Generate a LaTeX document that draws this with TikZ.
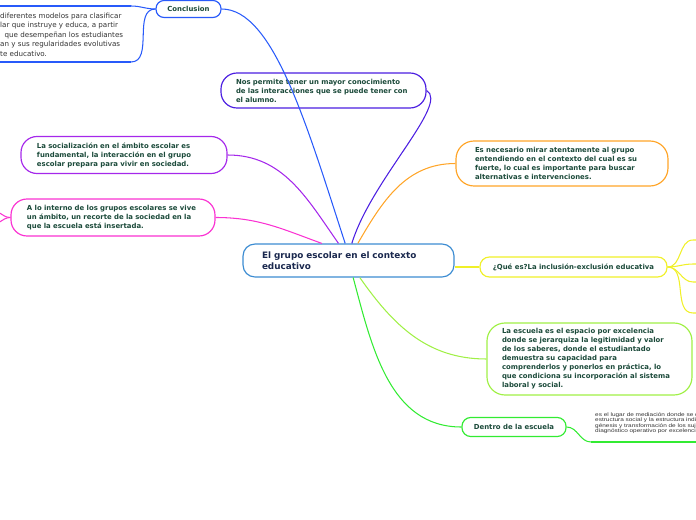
\documentclass[tikz,border=0pt]{standalone}
\usepackage{xcolor}
\usepackage{fontspec}
\setmainfont{DejaVu Sans}
\newfontfamily\arialfont[FakeStretch=1.25]{Liberation Sans}
\usepackage{tikz}
\usetikzlibrary{positioning, calc}
\definecolor{txtgreen}{RGB}{27,74,58}
\definecolor{txtnavy}{RGB}{26,40,78}
\definecolor{lnblue}{RGB}{40,90,250}
\definecolor{lnindigo}{RGB}{75,30,225}
\definecolor{lnpurple}{RGB}{165,40,235}
\definecolor{lnmagenta}{RGB}{250,50,210}
\definecolor{lnorange}{RGB}{255,165,40}
\definecolor{lnyellow}{RGB}{240,240,40}
\definecolor{lnlime}{RGB}{160,240,70}
\definecolor{lngreen}{RGB}{50,235,50}
\definecolor{centralblue}{RGB}{60,140,210}

\begin{document}
\begin{tikzpicture}[
        x=0.3mm, y=-0.3mm,
        topic/.style={rectangle, rounded corners=4.8mm, draw, line width=1pt, fill=white, align=left, text=txtgreen, inner ysep=0pt, font=\bfseries\fontsize{5.9pt}{7.7pt}\selectfont},
        label/.style={topic, align=center, rounded corners=2.6mm},
        central/.style={topic, draw=centralblue, text=txtnavy, rounded corners=3.6mm, font=\bfseries\fontsize{7.55pt}{9.4pt}\selectfont},
        note/.style={align=left, inner sep=0pt, text=black!80, font=\fontsize{6.1pt}{8.1pt}\selectfont},
        small/.style={align=left, inner sep=0pt, text=black!80, font=\arialfont\fontsize{4.4pt}{4.5pt}\selectfont},
        link/.style={line width=0.9pt},
        underline/.style={line width=1.4pt}
    ]
        \useasboundingbox (0,0) rectangle (696,520);

        % main topic
        \node[central, text width=51.9mm, inner xsep=5.7mm, minimum height=9.9mm] (grupo) at (348.5,260.5) {El grupo escolar en el contexto\\educativo};

        % upper branches
        \node[label, draw=lnblue, minimum width=19.5mm, minimum height=5.1mm, rounded corners=2.4mm] (conclusion) at (188.5,9) {Conclusion};
        \node[topic, draw=lnindigo, text width=52.5mm, inner xsep=4.5mm, minimum height=10.5mm] (permite) at (323.5,90.5) {Nos permite tener un mayor conocimiento\\de las interacciones que se puede tener con\\el alumno.};
        \node[topic, draw=lnpurple, text width=52.2mm, inner xsep=4.8mm, minimum height=11.1mm] (socializacion) at (124,155) {La socialización en el ámbito escolar es\\fundamental, la interacción en el grupo\\escolar prepara para vivir en sociedad.};
        \node[topic, draw=lnmagenta, text width=51.6mm, inner xsep=4.8mm, minimum height=11.1mm] (interno) at (113,217.5) {A lo interno de los grupos escolares se vive\\un ámbito, un recorte de la sociedad en la\\que la escuela está insertada.};
        \node[topic, draw=lnorange, text width=52.2mm, inner xsep=5.7mm, minimum height=13.5mm, rounded corners=5.4mm] (necesario) at (562,163.5) {Es necesario mirar atentamente al grupo\\entendiendo en el contexto del cual es su\\fuerte, lo cual es importante para buscar\\alternativas e intervenciones.};

        % lower branches
        \node[label, draw=lnyellow, minimum width=56.1mm, minimum height=6mm, rounded corners=2.8mm] (inclusion) at (573.5,267) {¿Qué es?La inclusión-exclusión educativa};
        \node[topic, draw=lnlime, text width=52.5mm, inner xsep=4.5mm, minimum height=21.6mm, rounded corners=5.4mm] (escuela) at (589.5,359) {La escuela es el espacio por excelencia\\donde se jerarquiza la legitimidad y valor\\de los saberes, donde el estudiantado\\demuestra su capacidad para\\comprenderlos y ponerlos en práctica, lo\\que condiciona su incorporación al sistema\\laboral y social.};
        \node[label, draw=lngreen, minimum width=31.2mm, minimum height=5.7mm] (dentro) at (514,427) {Dentro de la escuela};

        % cut texts at the edges
        \node[note, anchor=north west] (modelos) at (0,12.5) {diferentes modelos para clasificar\\lar que instruye y educa, a partir\\\hphantom{o}que desempeñan los estudiantes\\an y sus regularidades evolutivas\\te educativo.};
        \node[small, anchor=north west] (mediacion) at (595,412.5) {es el lugar de mediación donde se d\\estructura social y la estructura indi\\génesis y transformación de los suje\\diagnóstico operativo por excelencia};

        \coordinate (tl1) at (131,6);
        \coordinate (tl2) at (131,62);
        \coordinate (dl) at (591,442);

        \draw[link, lnblue] ([xshift=-1mm]grupo.north) to[out=108, in=0, out looseness=1.2, in looseness=0.5] (conclusion.east);
        \draw[link, lnindigo] ([xshift=1mm]grupo.north) to[out=73, in=-30, out looseness=1, in looseness=0.4] (permite.east);
        \draw[link, lnpurple] (socializacion.east) to[out=0, in=125] ([xshift=-3mm]grupo.north);
        \draw[link, lnmagenta] (interno.east) to[out=0, in=160] ([xshift=-8mm]grupo.north);
        \draw[link, lnorange] ([xshift=2.8mm]grupo.north) to[out=60, in=180] (necesario.west);
        \draw[link, lnyellow] (inclusion.west) -- (inclusion.west -| grupo.east);
        \draw[link, lnlime] ([xshift=3.4mm]grupo.south) to[out=-55, in=180] (escuela.west);
        \draw[link, lngreen] ([xshift=1.4mm]grupo.south) to[out=-75, in=180] (dentro.west);

        % links leaving the page
        \draw[link, lnblue] (conclusion.west) to[out=180, in=0] (tl1);
        \draw[link, lnblue] (conclusion.west) to[out=180, in=0] (tl2);
        \draw[underline, lnblue, line width=1.8pt] (tl1) -- ++(-140,0);
        \draw[underline, lnblue] (tl2) -- ++(-140,0);
        \draw[link, lngreen] (dentro.east) to[out=0, in=180] (dl);
        \draw[underline, lngreen, line width=1.8pt] (dl) -- ++(120,0);
        \foreach \y in {240,264,282,313}
            \draw[link, lnyellow] (inclusion.east) to[out=0, in=180] (693,\y) -- ++(20,0);
        \draw[link, lnmagenta] (interno.west) to[out=180, in=0] ++(-20,-8);
        \draw[link, lnmagenta] (interno.west) to[out=180, in=0] ++(-20,8);
    \end{tikzpicture}
\end{document}
